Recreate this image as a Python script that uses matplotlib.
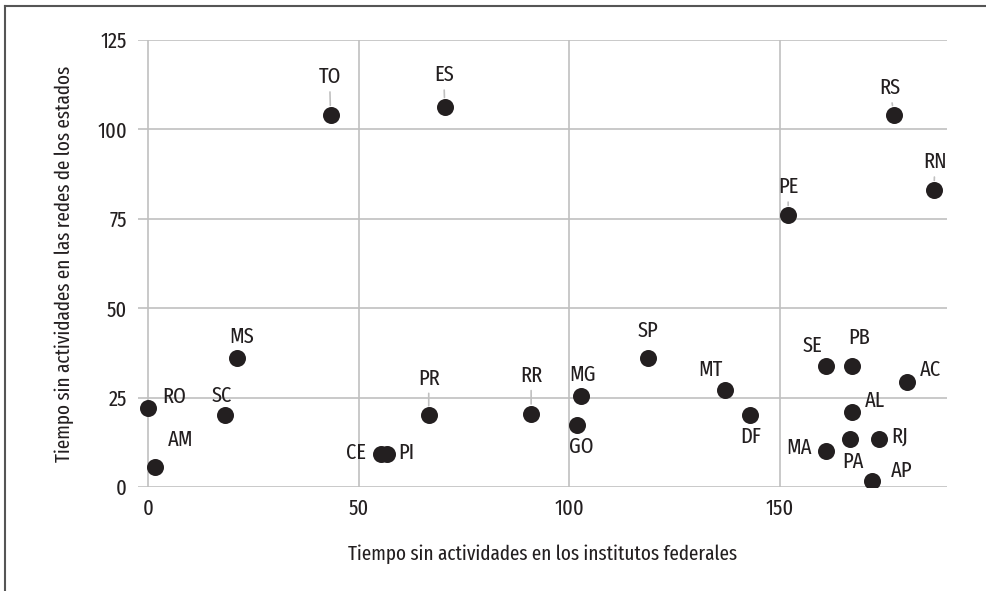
import matplotlib
matplotlib.use("Agg")
import matplotlib.pyplot as plt
from matplotlib.lines import Line2D

plt.rcParams["font.family"] = ["Fira Sans Extra Condensed", "DejaVu Sans"]

# datos: tiempo sin actividades (institutos federales vs redes estatales)
estados = ["RO", "AM", "SC", "MS", "CE", "PI", "PR", "TO", "ES", "RR", "MG", "GO", "SP",
           "MT", "DF", "PE", "SE", "PB", "AL", "PA", "RJ", "MA", "AP", "AC", "RS", "RN"]
federales = [0, 1.7, 18.2, 21.0, 55.2, 56.8, 66.6, 43.3, 70.4, 90.9, 102.7, 101.8, 118.6,
             136.9, 142.9, 151.9, 160.9, 167.0, 167.0, 166.6, 173.4, 160.9, 171.9, 180.0, 177.0, 186.5]
estatales = [22.0, 5.6, 20.0, 36.0, 9.1, 9.1, 20.0, 104.0, 106.2, 20.5, 25.4, 17.3, 36.0,
             27.1, 20.0, 76.0, 33.7, 33.7, 20.9, 13.5, 13.5, 10.2, 1.7, 29.3, 104.0, 83.0]

xticks = [0, 50, 100, 150]
yticks = [0, 25, 50, 75, 100, 125]

# posicion de las etiquetas (pixeles respecto al punto) y si llevan linea guia
offsets = {
    "TO": (-1, 38, True), "ES": (-1, 32, True), "RS": (-4, 27, True), "RN": (1, 28, True),
    "PE": (0, 28, True), "PR": (0, 37, True), "RR": (0, 38, True),
    "MS": (5, 21, False), "RO": (26, 12, False), "AM": (25, 27, False), "SC": (-3, 20, False),
    "CE": (-25, 2, False), "PI": (19, 2, False), "MG": (2, 21, False), "GO": (4, -22, False),
    "SP": (0, 27, False), "MT": (-15, 20, False), "DF": (0, -21, False), "SE": (-14, 21, False),
    "PB": (7, 29, False), "AC": (24, 12, False), "AL": (23, 11, False), "RJ": (21, 2, False),
    "MA": (-27, 3, False), "PA": (3, -23, False), "AP": (29, 10, False),
}

ink = "#231f20"
grid = "#c0c0c0"
fs = 16

fig = plt.figure(figsize=(9.87, 5.91), dpi=100)
ax = fig.add_axes([138 / 987, 1 - 487 / 591, (947 - 138) / 987, (487 - 40) / 591])

ax.set_xlim(-2.4, 189.6)
ax.set_ylim(0, 125)
for v in xticks:
    ax.plot([v, v], [0, 125], color=grid, lw=1.2, zorder=1)
for v in yticks:
    ax.axhline(v, color=grid, lw=1.2, zorder=1)

ax.scatter(federales, estatales, s=150, color=ink, zorder=3, linewidths=0)

for e, x, y in zip(estados, federales, estatales):
    dx, dy, guia = offsets[e]
    props = None
    if guia:
        props = dict(arrowstyle="-", color=grid, lw=1.2, shrinkA=1, shrinkB=7)
    ax.annotate(e, (x, y), xytext=(dx, dy), textcoords="offset pixels",
                ha="center", va="center", fontsize=fs, color=ink,
                arrowprops=props, zorder=4)

for s in ax.spines.values():
    s.set_visible(False)
ax.set_xticks(xticks)
ax.set_yticks(yticks)
ax.tick_params(length=0, labelsize=fs, labelcolor=ink, pad=8)

ax.set_xlabel("Tiempo sin actividades en los institutos federales", fontsize=15, color=ink, labelpad=18)
ax.set_ylabel("Tiempo sin actividades en las redes de los estados", fontsize=15, color=ink, labelpad=17)

# marco de la figura (recortado a izquierda y arriba)
fig.add_artist(Line2D([5.5 / 987, 5.5 / 987], [0, 1 - 5.5 / 591], color="#555555", lw=1.5))
fig.add_artist(Line2D([5.5 / 987, 1], [1 - 5.5 / 591, 1 - 5.5 / 591], color="#555555", lw=1.5))

fig.savefig("out.png", dpi=100)
